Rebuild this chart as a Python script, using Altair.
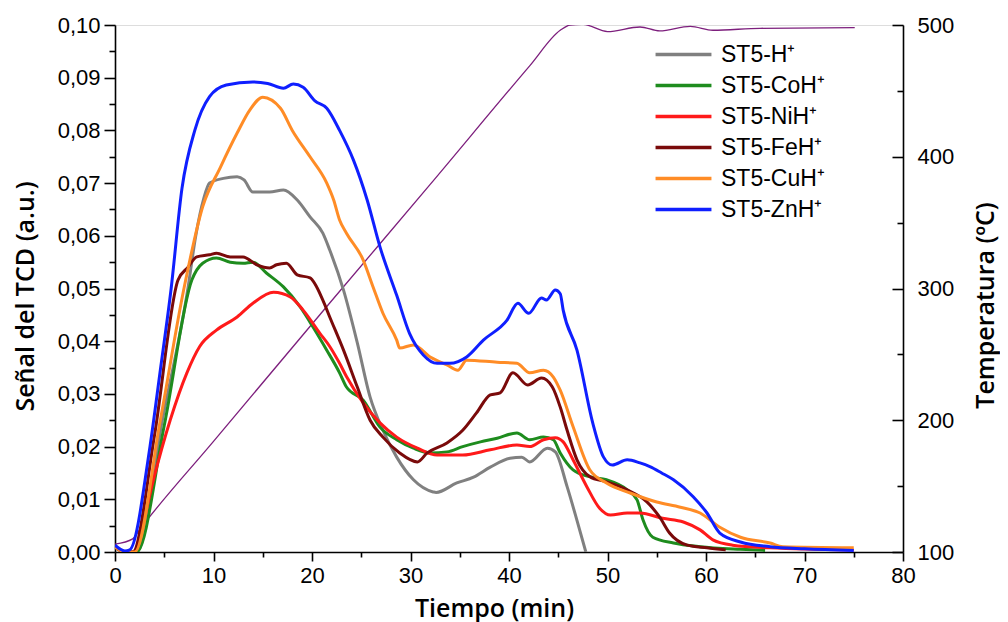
import altair as alt
import pandas as pd

# ---------------- data ----------------
series_names = ["ST5-H⁺", "ST5-CoH⁺", "ST5-NiH⁺", "ST5-FeH⁺", "ST5-CuH⁺", "ST5-ZnH⁺"]
series_colors = ["#808080", "#1e8c1e", "#ff1a1a", "#7a0a0a", "#ff8c26", "#0f1fff"]

h_t = [0, 1.0, 2.2, 4.8, 7.4, 8.2, 9.0, 9.6, 11.0, 12.4, 13.1, 14.0, 15.7, 17.1, 18.5, 19.8,
       21.1, 21.8, 23.2, 24.6, 25.9, 27.2, 28.6, 30.3, 32.3, 32.6, 34.7, 36.4, 38.1, 40.1,
       41.3, 42.1, 43.9, 44.7, 45.9, 46.9, 47.8]
h_v = [0.001, 0.0, 0.0, 0.025, 0.050, 0.060, 0.067, 0.070, 0.0709, 0.0712, 0.0706, 0.0683,
       0.0683, 0.0687, 0.0668, 0.0636, 0.0605, 0.0573, 0.0497, 0.0397, 0.0294, 0.0231, 0.018,
       0.0137, 0.0114, 0.0113, 0.0131, 0.0142, 0.0161, 0.0178, 0.018, 0.0171, 0.0197, 0.019,
       0.0124, 0.006, 0.0]

co_t = [0, 1.0, 2.2, 5.0, 7.8, 8.9, 10.3, 11.7, 13.0, 14.0, 15.4, 17.1, 18.8, 20.1, 21.5,
        22.8, 23.5, 25.2, 26.9, 28.6, 30.3, 32.0, 33.7, 35.3, 37.1, 38.8, 40.8, 42.1, 43.5,
        44.5, 45.2, 46.5, 48.2, 49.9, 52.0, 53.0, 53.6, 54.6, 56.7, 59.4, 63.5, 66.0]
co_v = [0.001, 0.0, 0.0, 0.024, 0.0516, 0.0548, 0.0558, 0.055, 0.0548, 0.055, 0.0529, 0.0503,
        0.0465, 0.0427, 0.0383, 0.034, 0.0313, 0.0288, 0.0237, 0.0213, 0.0197, 0.0188, 0.019,
        0.020, 0.0209, 0.0216, 0.0226, 0.0213, 0.0218, 0.0213, 0.0188, 0.0156, 0.0143, 0.0137,
        0.0118, 0.0099, 0.0061, 0.0028, 0.0017, 0.001, 0.0005, 0.0003]

ni_t = [0, 1.0, 2.0, 2.5, 3.9, 5.6, 7.3, 8.6, 10.3, 12.4, 14.0, 16.1, 17.8, 19.1, 20.8, 21.8,
        22.8, 23.5, 25.2, 26.9, 28.6, 30.7, 32.7, 35.3, 38.1, 40.8, 42.1, 43.5, 44.7, 45.5,
        46.5, 47.9, 49.2, 50.3, 52.0, 53.3, 55.6, 57.7, 59.4, 60.7, 62.7, 66.5, 75.0]
ni_v = [0.001, 0.0, 0.0, 0.0028, 0.0137, 0.025, 0.034, 0.039, 0.0421, 0.0446, 0.0472, 0.0493,
        0.0484, 0.0459, 0.0415, 0.039, 0.0358, 0.0333, 0.0283, 0.0245, 0.0218, 0.0197, 0.0184,
        0.0184, 0.0194, 0.0203, 0.020, 0.0213, 0.0217, 0.0209, 0.0175, 0.0124, 0.0083, 0.007,
        0.0074, 0.0074, 0.0064, 0.0057, 0.0042, 0.0023, 0.0013, 0.0008, 0.0004]

fe_t = [0, 1.0, 1.8, 4.0, 6.4, 7.4, 8.3, 9.6, 10.3, 11.7, 13.0, 14.4, 15.7, 16.4, 17.4, 18.5,
        19.8, 21.1, 21.8, 23.2, 24.6, 25.9, 27.2, 28.9, 30.7, 31.7, 33.7, 35.3, 36.7, 38.1,
        39.1, 40.4, 41.9, 43.3, 44.4, 45.2, 45.9, 46.9, 48.2, 49.9, 52.0, 54.0, 55.3, 56.3,
        58.1, 60.1, 62.0]
fe_v = [0.001, 0.0, 0.0, 0.022, 0.0516, 0.054, 0.056, 0.0564, 0.0567, 0.056, 0.056, 0.0545,
        0.0539, 0.0545, 0.0548, 0.0526, 0.052, 0.0478, 0.0446, 0.0383, 0.0313, 0.025, 0.0218,
        0.0188, 0.0171, 0.0188, 0.0207, 0.0231, 0.0264, 0.0298, 0.0302, 0.034, 0.0317, 0.033,
        0.0313, 0.0275, 0.0231, 0.0175, 0.0143, 0.0133, 0.0118, 0.0095, 0.0066, 0.0036, 0.0013,
        0.0008, 0.0004]

cu_t = [0, 1.0, 2.0, 4.6, 7.0, 8.9, 10.7, 12.4, 13.7, 15.0, 16.8, 18.0, 19.8, 21.5, 22.2,
        22.8, 23.5, 25.2, 26.2, 27.2, 28.6, 28.9, 30.3, 32.0, 33.7, 34.8, 35.7, 38.8, 40.8,
        42.1, 43.5, 44.5, 45.2, 46.5, 48.2, 49.9, 52.3, 55.0, 57.4, 59.4, 61.4, 63.5, 66.5,
        67.8, 75.0]
cu_v = [0.001, 0.0, 0.0, 0.025, 0.050, 0.0655, 0.073, 0.0795, 0.0839, 0.0863, 0.0842, 0.080,
        0.075, 0.070, 0.0668, 0.063, 0.0605, 0.0554, 0.0503, 0.0453, 0.0402, 0.0387, 0.0393,
        0.037, 0.0355, 0.0345, 0.0364, 0.036, 0.0358, 0.034, 0.0345, 0.0332, 0.0307, 0.0238,
        0.0156, 0.0131, 0.0112, 0.0095, 0.0085, 0.0074, 0.0047, 0.0028, 0.0017, 0.001, 0.0008]

zn_t = [0, 1.0, 1.5, 3.55, 4.6, 5.7, 6.8, 8.1, 9.6, 11.3, 14.0, 15.5, 17.1, 18.1, 19.1, 20.3,
        21.5, 22.8, 24.2, 25.6, 26.9, 28.6, 29.9, 31.3, 32.7, 34.0, 35.7, 37.4, 39.8, 40.9,
        42.0, 43.3, 43.8, 44.7, 45.2, 45.5, 46.9, 48.5, 49.6, 50.5, 52.0, 53.3, 54.3, 55.5,
        56.7, 58.7, 60.1, 61.4, 63.5, 66.5, 70.0, 75.0]
zn_v = [0.0013, 0.0002, 0.0004, 0.020, 0.0345, 0.050, 0.069, 0.080, 0.0864, 0.0886, 0.0892,
        0.0889, 0.0880, 0.0888, 0.0882, 0.0856, 0.0842, 0.080, 0.0744, 0.0668, 0.0579, 0.0487,
        0.0415, 0.0374, 0.0358, 0.0358, 0.037, 0.0402, 0.044, 0.0472, 0.0453, 0.0482, 0.0478,
        0.0497, 0.049, 0.0459, 0.0383, 0.0245, 0.018, 0.0165, 0.0175, 0.0169, 0.0162, 0.015,
        0.0137, 0.0105, 0.0074, 0.0036, 0.0019, 0.001, 0.0006, 0.0003]

temp_t = [0, 1.8, 2.5, 10.0, 21.8, 32.0, 42.1, 45.2, 46.2, 47.5, 50.0, 53.3, 55.3, 58.4,
          60.7, 65.5, 75.1]
temp_v = [106, 110, 117, 184, 289, 379, 469, 496, 500, 500.5, 495, 498.5, 495.5, 499,
          496, 497.5, 498]

x_ticks = [0, 5, 10, 15, 20, 25, 30, 35, 40, 45, 50, 55, 60, 65, 70, 75, 80]
y_ticks = [0.0, 0.005, 0.01, 0.015, 0.02, 0.025, 0.03, 0.035, 0.04, 0.045, 0.05,
           0.055, 0.06, 0.065, 0.07, 0.075, 0.08, 0.085, 0.09, 0.095, 0.1]
t_ticks = [100, 150, 200, 250, 300, 350, 400, 450, 500]

# ---------------- build tables ----------------
rows = []
all_t = [h_t, co_t, ni_t, fe_t, cu_t, zn_t]
all_v = [h_v, co_v, ni_v, fe_v, cu_v, zn_v]
for k, (name, ts, vs) in enumerate(zip(series_names, all_t, all_v)):
    for i, (t, v) in enumerate(zip(ts, vs)):
        rows.append({"serie": name, "t": t, "v": v, "i": i, "k": k})
df = pd.DataFrame(rows)
temp_df = pd.DataFrame({"t": temp_t, "T": temp_v})

TICK_FONT = "Liberation Sans"
TITLE_FONT = "Open Sans"

x_axis = alt.Axis(
    values=x_ticks,
    labelExpr="datum.value % 10 == 0 ? datum.label : ''",
    tickSize=alt.ExprRef("datum.value % 10 == 0 ? 9 : 5"),
    title="Tiempo (min)",
    titleFont=TITLE_FONT, titleFontSize=25, titleFontWeight=600,
    titleX=379, titleY=64, titleBaseline="alphabetic", titleAnchor="start", titleAlign="center",
    labelFont=TICK_FONT, labelFontSize=22, labelPadding=4,
    grid=False, domainColor="black", tickColor="black", domainWidth=1.6, tickWidth=1.6,
    labelColor="black", titleColor="black", labelFlush=False, labelOverlap=False,
)

y_axis = alt.Axis(
    values=y_ticks,
    labelExpr="abs(datum.value*100 - round(datum.value*100)) < 0.01 ? replace(format(datum.value, '.2f'), '.', ',') : ''",
    tickSize=alt.ExprRef("abs(datum.value*100 - round(datum.value*100)) < 0.01 ? 11 : 6"),
    title="Señal del TCD (a.u.)",
    titleFont=TITLE_FONT, titleFontSize=25, titleFontWeight=600,
    titleAngle=270, titleX=-90, titleY=271, titleBaseline="middle", titleAlign="center",
    labelFont=TICK_FONT, labelFontSize=22, labelPadding=4,
    grid=False, domainColor="black", tickColor="black", domainWidth=1.6, tickWidth=1.6,
    labelColor="black", titleColor="black", labelFlush=False, labelOverlap=False,
)

t_axis = alt.Axis(
    orient="right",
    values=t_ticks,
    labelExpr="datum.value % 100 == 0 ? datum.label : ''",
    tickSize=alt.ExprRef("datum.value % 100 == 0 ? -11 : -6"),
    title="Temperatura (ºC)",
    titleFont=TITLE_FONT, titleFontSize=25, titleFontWeight=600,
    titleAngle=270, titleX=82, titleY=280, titleBaseline="middle", titleAlign="center",
    labelFont=TICK_FONT, labelFontSize=22, labelPadding=25,
    grid=False, domainColor="black", tickColor="black", domainWidth=1.6, tickWidth=1.6,
    labelColor="black", titleColor="black", labelFlush=False, labelOverlap=False,
)

x_enc = alt.X("t:Q", scale=alt.Scale(domain=[0, 80], nice=False, zero=False), axis=x_axis)

lines = alt.Chart(df).mark_line(strokeWidth=3, clip=True, interpolate="monotone").encode(
    x=x_enc,
    y=alt.Y("v:Q", scale=alt.Scale(domain=[0, 0.1], nice=False), axis=y_axis),
    color=alt.Color(
        "serie:N",
        scale=alt.Scale(domain=series_names, range=series_colors),
        sort=series_names,
        legend=alt.Legend(
            orient="none", legendX=557, legendY=18, title=None,
            symbolType="M-5,0H5", symbolSize=125, symbolStrokeWidth=3.5,
            labelFont=TICK_FONT, labelFontSize=23, labelColor="black",
            labelOffset=26, rowPadding=7, padding=0,
        ),
    ),
    detail="serie:N",
    order="i:Q",
)

temp = alt.Chart(temp_df).mark_line(strokeWidth=1.3, color="#7d1f7d", clip=True,
                                    interpolate="monotone").encode(
    x=alt.X("t:Q", scale=alt.Scale(domain=[0, 80], nice=False, zero=False)),
    y=alt.Y("T:Q", scale=alt.Scale(domain=[100, 500], nice=False, zero=False), axis=t_axis),
)

chart = alt.layer(temp, lines).resolve_scale(y="independent").properties(
    width=788, height=527,
    autosize=alt.AutoSizeParams(type="none"),
    padding={"left": 107, "top": 17, "right": 97, "bottom": 70},
).configure_view(stroke=None).configure(background="white")

chart.save("out.html", embed_options={"renderer": "svg", "actions": False})
